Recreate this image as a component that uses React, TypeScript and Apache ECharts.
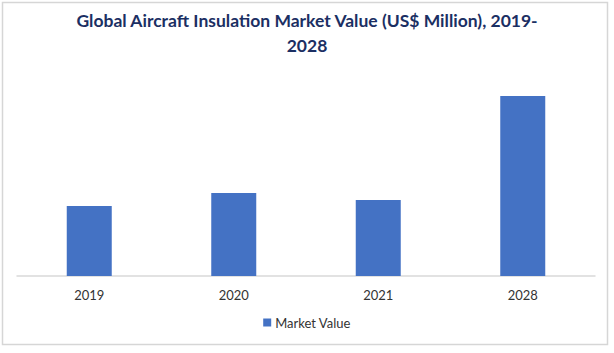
import React, { useEffect, useRef } from "react";
import * as echarts from "echarts";

const categories = ["2019", "2020", "2021", "2028"];
const marketValue = [2800, 3320, 3040, 7200];
const seriesName = "Market Value";
const titleText = "Global Aircraft Insulation Market Value (US$ Million), 2019-\n2028";

export default function App() {
  const ref = useRef<HTMLDivElement>(null);
  useEffect(() => {
    if (!ref.current) return;
    const chart = echarts.init(ref.current, null, { renderer: "svg" });
    chart.setOption({
      animation: false,
      backgroundColor: "#ffffff",
      title: {
        text: titleText,
        left: "center",
        top: 3,
        textStyle: {
          fontFamily: "Lato",
          fontWeight: "bold",
          fontSize: 17.5,
          lineHeight: 25,
          color: "#1b2f63",
        },
      },
      graphic: [
        {
          type: "rect",
          shape: { x: 2.5, y: 2.5, width: 605, height: 342 },
          style: { fill: "none", stroke: "#d6d6d6", lineWidth: 1.5 },
          silent: true,
        },
      ],
      legend: {
        data: [seriesName],
        bottom: 353 - 334,
        left: "center",
        itemWidth: 8,
        itemHeight: 8,
        itemGap: 5,
        icon: "rect",
        textStyle: { fontFamily: "Lato", fontSize: 13, color: "#333333", padding: [0, 0, 0, -1] },
      },
      grid: { left: 17, right: 19, top: 96, bottom: 77 },
      xAxis: {
        type: "category",
        data: categories,
        axisLine: { lineStyle: { color: "#d9d9d9", width: 1.5 } },
        axisTick: { show: false },
        axisLabel: { fontFamily: "Lato", fontSize: 13, color: "#333333", margin: 12 },
      },
      yAxis: {
        type: "value",
        min: 0,
        max: 7200,
        show: false,
        splitLine: { show: false },
      },
      series: [
        {
          name: seriesName,
          type: "bar",
          data: marketValue,
          barWidth: 45,
          itemStyle: { color: "#4472c4" },
        },
      ],
    });
    return () => chart.dispose();
  }, []);
  return (
    <div
      ref={ref}
      style={{ position: "fixed", left: 0, top: 0, width: 614, height: 353 }}
    />
  );
}
